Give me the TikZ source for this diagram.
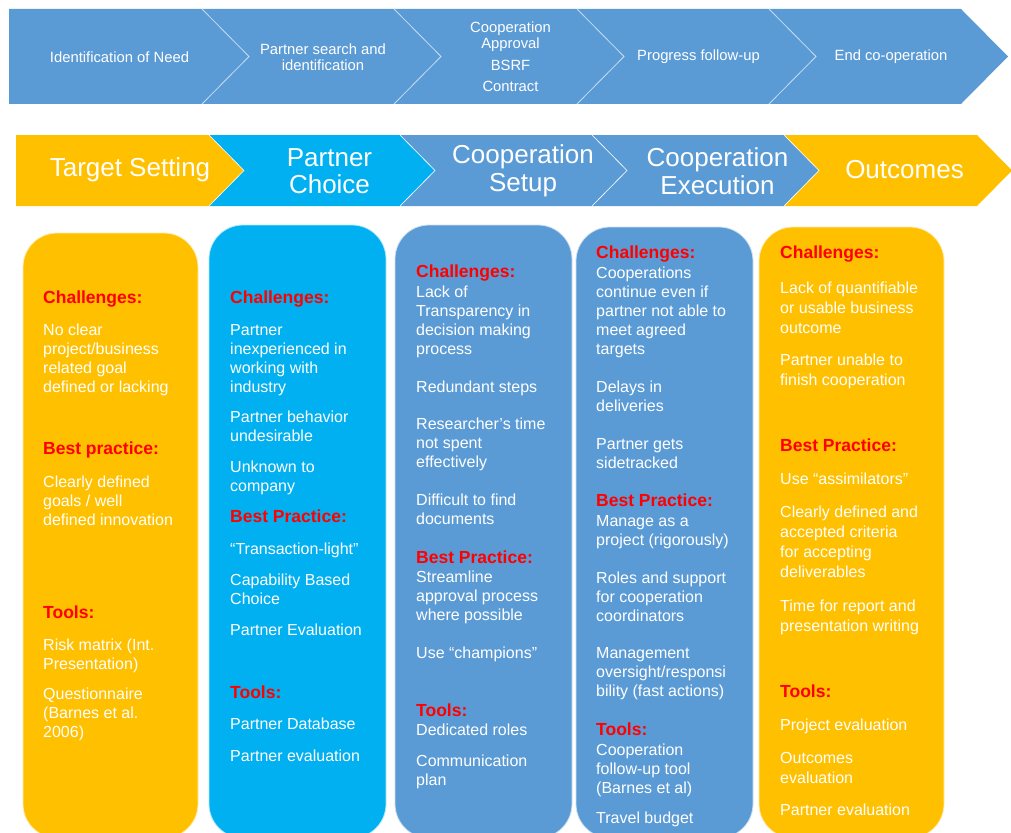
\documentclass[tikz,border=0pt]{standalone}
\usepackage{fontspec}
\setmainfont{Liberation Sans}
\definecolor{ppblue}{HTML}{5B9BD5}
\definecolor{ppyellow}{HTML}{FFC000}
\definecolor{ppcyan}{HTML}{00B0F0}
\definecolor{ppred}{HTML}{FF0000}
% lines stacked from the first baseline down
\newcommand\ls[1]{\begin{tabular}[t]{@{}l@{}}#1\end{tabular}}
\tikzset{
  hd/.style={anchor=base west, inner sep=0pt, text=ppred, font=\fontsize{17.5}{19}\selectfont\bfseries},
  tx/.style={anchor=base west, inner sep=0pt, text=white, font=\fontsize{16}{19.2}\selectfont},
  txw/.style={tx, font=\fontsize{16}{20.3}\selectfont},
  stage/.style={text=white, align=center, inner sep=0pt, font=\fontsize{14.8}{15.8}\selectfont},
  phase/.style={text=white, align=center, inner sep=0pt, font=\fontsize{26}{27.5}\selectfont},
  sep/.style={draw=white!65!ppblue, line width=0.8pt},
  column/.style={rounded corners=34pt, fill=#1, draw=white!70!#1, line width=0.8pt},
}
\begin{document}
\begin{tikzpicture}[x=1pt, y=-1pt]
  \useasboundingbox (0,0) rectangle (1011,832);
  \clip (0,0) rectangle (1011,832);
  % process steps
  \foreach \l/\r/\n in {9/202/0, 202/394/47, 394/577/47, 577/769/47, 769/961/47}
    \fill[ppblue] (\l,9) -- (\r,9) -- (\r+47,56.5) -- (\r,104) -- (\l,104) -- (\l+\n,56.5) -- cycle;
  \foreach \r in {202, 394, 577, 769}
    \draw[sep] (\r,9) -- (\r+47,56.5) -- (\r,104);
  \node[stage] (need) at (119.5,57) {Identification of Need};
  \node[stage] (search) at (323,57) {Partner search and\\identification};
  \node[stage] (approval) at (510.5,37) {Cooperation\\Approval};
  \node[stage] (bsrf) at (510.5,65) {BSRF};
  \node[stage] (contract) at (510.5,86) {Contract};
  \node[stage] (progress) at (698.5,57) {Progress follow-up};
  \node[stage] (end) at (891,57) {End co-operation};

  % phases
  \foreach \l/\r/\n/\c in {16/209/0/ppyellow, 209/400/35/ppcyan, 400/592/35/ppblue, 592/784/35/ppblue, 784/977/35/ppyellow}
    \fill[\c] (\l,135) -- (\r,135) -- (\r+35,170.5) -- (\r,206) -- (\l,206) -- (\l+\n,170.5) -- cycle;
  \foreach \r in {209, 400, 592, 784}
    \draw[draw=white!60, line width=0.6pt] (\r,135) -- (\r+35,170.5) -- (\r,206);
  \node[phase] (target) at (130,170) {Target Setting};
  \node[phase] (choice) at (329.5,171) {Partner\\Choice};
  \node[phase] (setup) at (523,171) {Cooperation\\Setup};
  \node[phase] (exec) at (717.5,171) {Cooperation\\Execution};
  \node[phase] (outcomes) at (904.5,170) {Outcomes};

  % columns
  \foreach \l/\r/\t/\c in {23/198/233/ppyellow, 209/386/225/ppcyan, 395/572/225/ppblue, 576/753/227/ppblue, 759/944/227/ppyellow}
    \draw[column=\c] (\l,\t) rectangle (\r,838);

  % target setting
  \node[hd] (c1ch) at (43,303) {Challenges:};
  \node[tx] (c1a) at (43,335) {\ls{No clear\\project/business\\related goal\\defined or lacking}};
  \node[hd] (c1bp) at (43,454) {Best practice:};
  \node[tx] (c1b) at (43,487) {\ls{Clearly defined\\goals / well\\defined innovation}};
  \node[hd] (c1tl) at (43,618) {Tools:};
  \node[tx] (c1c) at (43,650) {\ls{Risk matrix (Int.\\Presentation)}};
  \node[tx] (c1d) at (43,699) {\ls{Questionnaire\\(Barnes et al.\\2006)}};

  % partner choice
  \node[hd] (c2ch) at (230,303) {Challenges:};
  \node[tx] (c2a) at (230,335) {\ls{Partner\\inexperienced in\\working with\\industry}};
  \node[tx] (c2b) at (230,422) {\ls{Partner behavior\\undesirable}};
  \node[tx] (c2c) at (230,472) {\ls{Unknown to\\company}};
  \node[hd] (c2bp) at (230,522) {Best Practice:};
  \node[tx] (c2d) at (230,554) {“Transaction-light”};
  \node[tx] (c2e) at (230,585) {\ls{Capability Based\\Choice}};
  \node[tx] (c2f) at (230,635) {Partner Evaluation};
  \node[hd] (c2tl) at (230,698) {Tools:};
  \node[tx] (c2g) at (230,729) {Partner Database};
  \node[tx] (c2h) at (230,761) {Partner evaluation};

  % cooperation setup
  \node[hd] (c3ch) at (416,277) {Challenges:};
  \node[tx] (c3a) at (416,297) {\ls{Lack of\\Transparency in\\decision making\\process}};
  \node[tx] (c3b) at (416,392) {Redundant steps};
  \node[tx] (c3c) at (416,429) {\ls{Researcher’s time\\not spent\\effectively}};
  \node[tx] (c3d) at (416,505) {\ls{Difficult to find\\documents}};
  \node[hd] (c3bp) at (416,563) {Best Practice:};
  \node[tx] (c3e) at (416,582) {\ls{Streamline\\approval process\\where possible}};
  \node[tx] (c3f) at (416,658) {Use “champions”};
  \node[hd] (c3tl) at (416,716) {Tools:};
  \node[tx] (c3g) at (416,735) {Dedicated roles};
  \node[tx] (c3h) at (416,766) {\ls{Communication\\plan}};

  % cooperation execution
  \node[hd] (c4ch) at (596,258) {Challenges:};
  \node[tx] (c4a) at (596,278) {\ls{Cooperations\\continue even if\\partner not able to\\meet agreed\\targets}};
  \node[tx] (c4b) at (596,392) {\ls{Delays in\\deliveries}};
  \node[tx] (c4c) at (596,449) {\ls{Partner gets\\sidetracked}};
  \node[hd] (c4bp) at (596,506) {Best Practice:};
  \node[tx] (c4d) at (596,526) {\ls{Manage as a\\project (rigorously)}};
  \node[tx] (c4e) at (596,583) {\ls{Roles and support\\for cooperation\\coordinators}};
  \node[tx] (c4f) at (596,658) {\ls{Management\\oversight/responsi\\bility (fast actions)}};
  \node[hd] (c4tl) at (596,735) {Tools:};
  \node[tx] (c4g) at (596,755) {\ls{Cooperation\\follow-up tool\\(Barnes et al)}};
  \node[tx] (c4h) at (596,823) {Travel budget};

  % outcomes
  \node[hd] (c5ch) at (780,258) {Challenges:};
  \node[txw] (c5a) at (780,293) {\ls{Lack of quantifiable\\or usable business\\outcome}};
  \node[txw] (c5b) at (780,365) {\ls{Partner unable to\\finish cooperation}};
  \node[hd] (c5bp) at (780,451) {Best Practice:};
  \node[txw] (c5c) at (780,484) {Use “assimilators”};
  \node[txw] (c5d) at (780,517) {\ls{Clearly defined and\\accepted criteria\\for accepting\\deliverables}};
  \node[txw] (c5e) at (780,611) {\ls{Time for report and\\presentation writing}};
  \node[hd] (c5tl) at (780,697) {Tools:};
  \node[txw] (c5f) at (780,730) {Project evaluation};
  \node[txw] (c5g) at (780,763) {\ls{Outcomes\\evaluation}};
  \node[txw] (c5h) at (780,815) {Partner evaluation};
\end{tikzpicture}
\end{document}
